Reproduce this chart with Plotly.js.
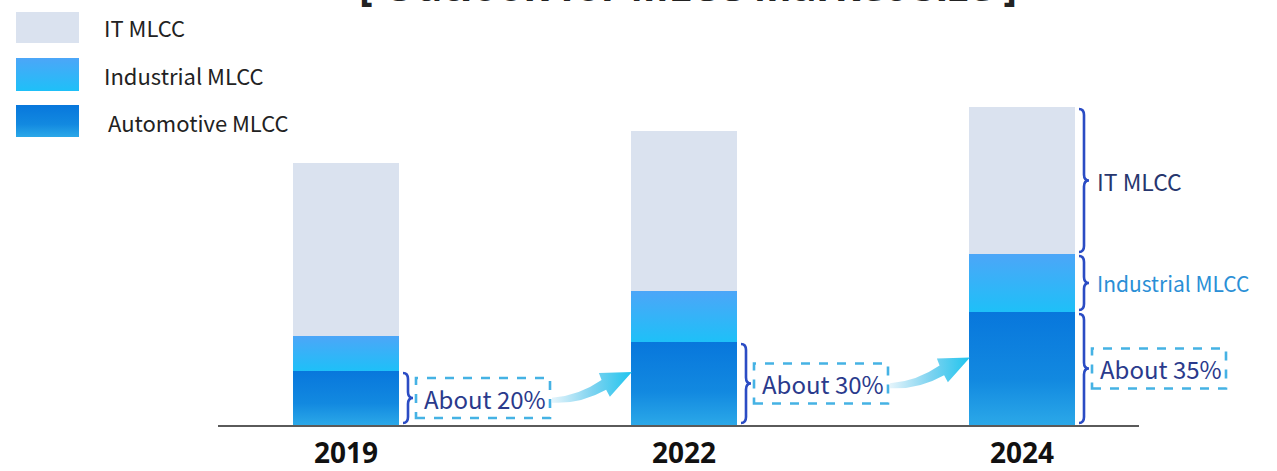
<!DOCTYPE html>
<html>
<head>
<meta charset="utf-8">
<script src="https://cdn.plot.ly/plotly-3.0.1.min.js"></script>
<style>
  html, body { margin: 0; padding: 0; background: #ffffff; }
  #chart { width: 1277px; height: 471px; }
</style>
</head>
<body>
<div id="chart"></div>
<script>
// ---- data (arbitrary size units) ----
const years = ['2019', '2022', '2024'];
const seriesNames = ['Automotive MLCC', 'Industrial MLCC', 'IT MLCC'];
const automotive = [54, 83, 113];
const industrial = [35, 51, 58];
const itMlcc = [173, 160, 147];
const shareLabels = ['About 20%', 'About 30%', 'About 35%'];
const titleText = '[ Outlook for MLCC Market Size ]';

// ---- styling ----
const COL_AUTO = 'rgb(10, 121, 221)';
const COL_IND = 'rgb(59, 176, 248)';
const COL_IT = 'rgb(218, 226, 239)';
const COL_ARROW = 'rgb(40, 196, 236)';
const BRACE = '#2b4cc4';
const NAVY = '#2a3a8c';
const xIdx = years.map((_, i) => i);
const BW = 0.3136;
const PXX = 1 / 338;          // x data units per pixel
const ML = 218, PW = 921, PH = 425;
const XR = [-(346 - ML) / 338, 2 + (ML + PW - 1022) / 338];
const PX = p => (p - ML) / PW;  // pixel -> paper x
const PY = p => (PH - p) / PH;  // pixel -> paper y
const DX = x => (x - XR[0]) / (XR[1] - XR[0]); // data x -> paper x
const DY = y => y / PH;                          // data y -> paper y

const traces = [
  {name: seriesNames[0], y: automotive, color: COL_AUTO},
  {name: seriesNames[1], y: industrial, color: COL_IND},
  {name: seriesNames[2], y: itMlcc, color: COL_IT}
].map(s => ({
  type: 'bar', x: xIdx, y: s.y, name: s.name, width: BW,
  marker: {color: s.color, line: {width: 0}}, showlegend: false, hoverinfo: 'skip'
}));

const shapes = [];
const annotations = [];
const labelFont = 'Noto Sans CJK SC, Noto Sans, sans-serif';

function brace(i, y0, y1) {
  const r = i + BW / 2;
  const x0 = DX(r + 4 * PXX), x1 = DX(r + 9 * PXX), x2 = DX(r + 14 * PXX);
  const b = y0 + 2, t = y1 - 2, m = (b + t) / 2, c = Math.min(6, (t - b) / 4);
  const Y = DY;
  shapes.push({
    type: 'path', xref: 'paper', yref: 'paper',
    path: `M${x0},${Y(t)} Q${x1},${Y(t)} ${x1},${Y(t - c)} L${x1},${Y(m + c)} Q${x1},${Y(m)} ${x2},${Y(m)} Q${x1},${Y(m)} ${x1},${Y(m - c)} L${x1},${Y(b + c)} Q${x1},${Y(b)} ${x0},${Y(b)}`,
    line: {color: BRACE, width: 2.6}
  });
}

years.forEach((yr, i) => {
  const r = i + BW / 2;
  const a = automotive[i];
  brace(i, 0, a);
  const mid = a / 2;
  const bx0 = r + 17 * PXX, bx1 = r + 151 * PXX;
  shapes.push({
    type: 'rect', xref: 'paper', yref: 'paper', x0: DX(bx0), x1: DX(bx1), y0: DY(mid - 20), y1: DY(mid + 20),
    line: {color: '#45b2e4', width: 2.6, dash: 'dash'}
  });
  annotations.push({
    xref: 'paper', yref: 'paper', x: DX((bx0 + bx1) / 2 + 2 * PXX), y: DY(mid), text: shareLabels[i], showarrow: false,
    font: {family: labelFont, size: 24, color: NAVY}, xanchor: 'center', yanchor: 'middle'
  });
  if (i < years.length - 1) {
    const sx = bx1 + 2 * PXX, sy = mid - 2;
    const k0 = 1.08;
    const pts = [[0, 2], [25, 4], [45.9, 18.5], [43.4, 25], [74, 26], [53.6, 3], [50.1, 9.5], [26, -4], [0, -2.5]];
    const P = k => `${DX(sx + pts[k][0] * k0 * PXX)},${DY(sy + pts[k][1] * k0)}`;
    shapes.push({
      type: 'path', xref: 'paper', yref: 'paper',
      path: `M${P(0)} Q${P(1)} ${P(2)} L${P(3)} L${P(4)} L${P(5)} L${P(6)} Q${P(7)} ${P(8)} Z`,
      fillcolor: COL_ARROW, line: {width: 0}
    });
  }
});

// braces and labels for the last year
const L = years.length - 1;
const indTop = automotive[L] + industrial[L];
brace(L, automotive[L], indTop);
brace(L, indTop, indTop + itMlcc[L]);
annotations.push({
  xref: 'paper', yref: 'paper', x: DX(L + BW / 2 + 20 * PXX), y: DY(automotive[L] + industrial[L] / 2),
  text: seriesNames[1], showarrow: false, xanchor: 'left', yanchor: 'middle',
  font: {family: labelFont, size: 21, color: '#2a8fd6'}
});
annotations.push({
  xref: 'paper', yref: 'paper', x: DX(L + BW / 2 + 20 * PXX), y: DY(indTop + itMlcc[L] / 2),
  text: seriesNames[2], showarrow: false, xanchor: 'left', yanchor: 'middle',
  font: {family: labelFont, size: 23, color: '#27366e'}
});

// custom legend (IT, Industrial, Automotive from top)
const legendRows = [
  {name: seriesNames[2], color: COL_IT, y0: 12, y1: 43, tx: 102, ty: 27},
  {name: seriesNames[1], color: COL_IND, y0: 58, y1: 91, tx: 102, ty: 75},
  {name: seriesNames[0], color: COL_AUTO, y0: 105, y1: 137, tx: 106, ty: 122}
];
legendRows.forEach(row => {
  shapes.push({
    type: 'rect', xref: 'paper', yref: 'paper', x0: PX(16), x1: PX(79), y0: PY(row.y1), y1: PY(row.y0),
    fillcolor: row.color, line: {width: 0}
  });
  annotations.push({
    xref: 'paper', yref: 'paper', x: PX(row.tx), y: PY(row.ty), text: row.name, showarrow: false,
    xanchor: 'left', yanchor: 'middle',
    font: {family: labelFont, size: 22, color: '#222222'}
  });
});

// title (mostly above the visible frame, as in the reference)
annotations.push({
  xref: 'paper', yref: 'paper', x: PX(688), y: PY(15), text: titleText, showarrow: false,
  xanchor: 'center', yanchor: 'bottom',
  font: {family: 'Noto Sans', size: 41, weight: 700, color: '#222222'}
});

const layout = {
  width: 1277, height: 471,
  margin: {l: ML, r: 1277 - ML - PW, t: 0, b: 471 - PH},
  paper_bgcolor: '#ffffff', plot_bgcolor: '#ffffff',
  barmode: 'stack', showlegend: false,
  xaxis: {
    range: XR,
    tickvals: xIdx, ticktext: years, ticks: '', showgrid: false, zeroline: false,
    showline: true, linecolor: '#5a5a5a', linewidth: 2, ticklabelstandoff: 2,
    tickfont: {family: 'Noto Sans', size: 28, weight: 700, color: '#111111'}
  },
  yaxis: {range: [0, PH], visible: false, fixedrange: true},
  shapes: shapes, annotations: annotations, hovermode: false
};

Plotly.newPlot('chart', traces, layout, {staticPlot: true, displayModeBar: false}).then(gd => {
  const svg = gd.querySelector('svg.main-svg');
  const NS = 'http://www.w3.org/2000/svg';
  let defs = svg.querySelector('defs');
  if (!defs) { defs = document.createElementNS(NS, 'defs'); svg.insertBefore(defs, svg.firstChild); }
  function grad(id, stops, horiz) {
    const g = document.createElementNS(NS, 'linearGradient');
    g.setAttribute('id', id);
    g.setAttribute('x1', '0'); g.setAttribute('y1', '0');
    g.setAttribute('x2', horiz ? '1' : '0'); g.setAttribute('y2', horiz ? '0' : '1');
    stops.forEach(([o, c]) => {
      const s = document.createElementNS(NS, 'stop');
      s.setAttribute('offset', o); s.setAttribute('stop-color', c);
      g.appendChild(s);
    });
    defs.appendChild(g);
  }
  grad('gAuto', [['0', '#0877dc'], ['0.6', '#1289e0'], ['1', '#2ba8e8']], false);
  grad('gInd', [['0', '#4ca6f8'], ['1', '#1ec0f8']], false);
  grad('gArrow', [['0', '#e4f4fb'], ['0.5', '#7fd3f0'], ['1', '#1ec4ee']], true);
  const map = {};
  map[COL_AUTO] = 'url(#gAuto)';
  map[COL_IND] = 'url(#gInd)';
  map[COL_ARROW] = 'url(#gArrow)';
  gd.querySelectorAll('path').forEach(p => {
    const f = p.style.fill;
    if (map[f]) p.style.fill = map[f];
  });
});
</script>
</body>
</html>
